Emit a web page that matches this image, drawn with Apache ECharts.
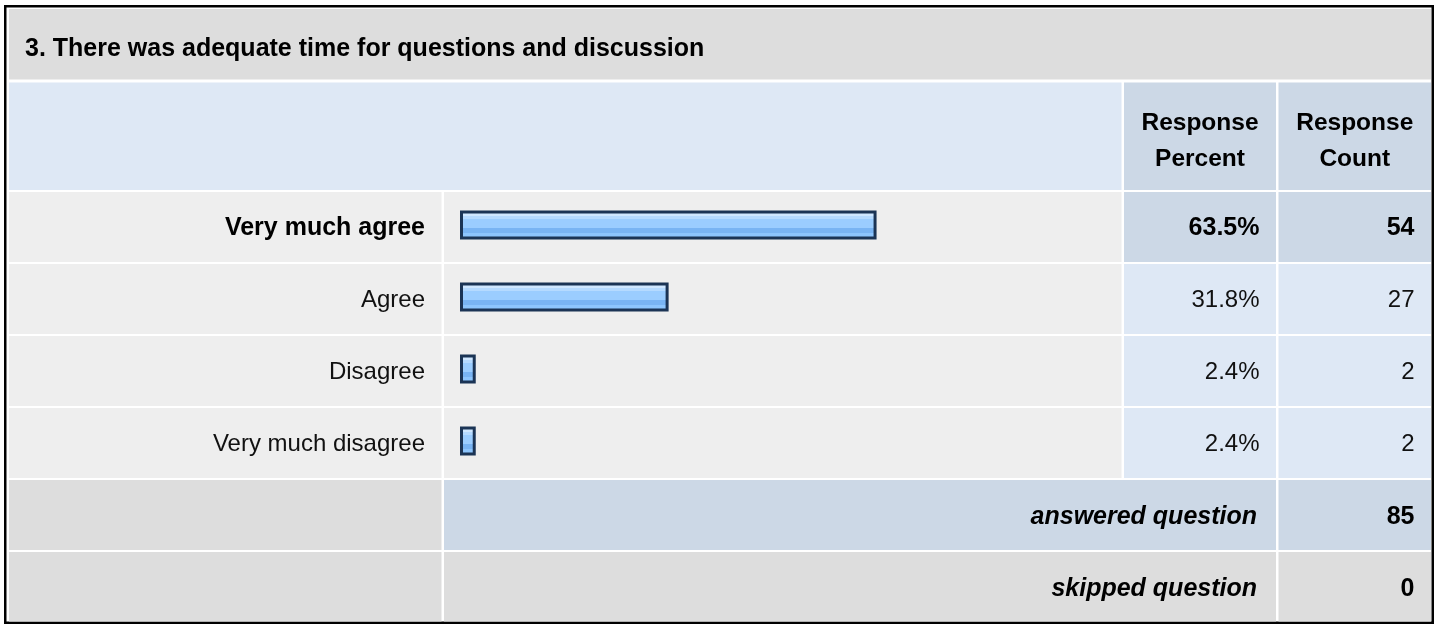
<!DOCTYPE html>
<html>
<head>
<meta charset="utf-8">
<script src="https://cdn.jsdelivr.net/npm/echarts@6/dist/echarts.min.js"></script>
<style>
html,body{margin:0;padding:0;background:#ffffff;}
#chart{width:1440px;height:625px;}
</style>
</head>
<body>
<div id="chart"></div>
<script>
// ---- data ----
var questionTitle = '3. There was adequate time for questions and discussion';
var categories = ['Very much agree', 'Agree', 'Disagree', 'Very much disagree'];
var responsePercent = [63.5, 31.8, 2.4, 2.4];
var responseCount = [54, 27, 2, 2];
var headerPercent = 'Response\nPercent';
var headerCount = 'Response\nCount';
var answeredLabel = 'answered question';
var answeredCount = 85;
var skippedLabel = 'skipped question';
var skippedCount = 0;

// ---- layout / styles ----
var FONT = '"Liberation Sans", Arial, Helvetica, sans-serif';
var C_TITLE = '#dddddd', C_HEAD_L = '#dee8f5', C_HEAD_D = '#ccd8e6', C_ROW = '#eeeeee';
var colL = [9, 441.5], colBar = [444, 1121.5], colP = [1124, 1276], colC = [1278.5, 1431];
var rowTop0 = 192, rowH = 70, rowStep = 72;
var maxIdx = responsePercent.indexOf(Math.max.apply(null, responsePercent));

var chart = echarts.init(document.getElementById('chart'), null, {renderer: 'canvas'});

function rect(x0, x1, y0, y1, color, z) {
  return {type: 'rect', z: z || 1, silent: true,
    shape: {x: x0, y: y0, width: x1 - x0, height: y1 - y0},
    style: {fill: color}};
}
function text(str, x, y, align, font, z) {
  return {type: 'text', z: z || 30, silent: true,
    style: {text: str, x: x, y: y, textAlign: align, textVerticalAlign: 'middle',
      font: font, fill: '#000', lineHeight: 36}};
}

var g = [];
// outer frame
g.push(rect(4, 1434, 5, 624, '#000000', 0));
g.push(rect(6.5, 1431.5, 7.5, 621.5, '#ffffff', 0));
// title
g.push(rect(9, 1431, 9, 79.5, C_TITLE));
g.push(text(questionTitle, 25, 49, 'left', 'bold 25px ' + FONT));
// header
g.push(rect(colL[0], colBar[1], 82.5, 190, C_HEAD_L));
g.push(rect(colP[0], colP[1], 82.5, 190, C_HEAD_D));
g.push(rect(colC[0], colC[1], 82.5, 190, C_HEAD_D));
g.push(text(headerPercent, (colP[0] + colP[1]) / 2, 141, 'center', 'bold 24.5px ' + FONT));
g.push(text(headerCount, (colC[0] + colC[1]) / 2, 141, 'center', 'bold 24.5px ' + FONT));
// data rows backgrounds
for (var i = 0; i < categories.length; i++) {
  var y0 = rowTop0 + i * rowStep, y1 = y0 + rowH;
  var vc = (i === maxIdx) ? C_HEAD_D : C_HEAD_L;
  g.push(rect(colL[0], colL[1], y0, y1, C_ROW));
  g.push(rect(colBar[0], colBar[1], y0, y1, C_ROW));
  g.push(rect(colP[0], colP[1], y0, y1, vc));
  g.push(rect(colC[0], colC[1], y0, y1, vc));
}
// footer rows
var aTop = rowTop0 + categories.length * rowStep;
var sTop = aTop + rowStep;
g.push(rect(colL[0], colL[1], aTop, aTop + rowH, C_TITLE));
g.push(rect(colBar[0], colP[1], aTop, aTop + rowH, C_HEAD_D));
g.push(rect(colC[0], colC[1], aTop, aTop + rowH, C_HEAD_D));
g.push(rect(colL[0], colL[1], sTop, sTop + 69.5, C_TITLE));
g.push(rect(colBar[0], colP[1], sTop, sTop + 69.5, C_TITLE));
g.push(rect(colC[0], colC[1], sTop, sTop + 69.5, C_TITLE));
g.push(text(answeredLabel, colP[1] - 19, aTop + 37, 'right', 'italic bold 25px ' + FONT));
g.push(text(String(answeredCount), colC[1] - 16.5, aTop + 37, 'right', 'bold 25px ' + FONT));
g.push(text(skippedLabel, colP[1] - 19, sTop + 37, 'right', 'italic bold 25px ' + FONT));
g.push(text(String(skippedCount), colC[1] - 16.5, sTop + 37, 'right', 'bold 25px ' + FONT));

var gridLeft = 460, gridW = 656, gridRight = gridLeft + gridW;

function labelRich(fmt) {
  return function (v, idx) {
    var s = fmt(v, idx);
    return idx === maxIdx ? '{b|' + s + '}' : '{n|' + s + '}';
  };
}
var richStyles = {
  b: {fontFamily: FONT, fontSize: 25, fontWeight: 'bold', color: '#000'},
  n: {fontFamily: FONT, fontSize: 24, fontWeight: 'normal', color: '#111'}
};

var barFill = new echarts.graphic.LinearGradient(0, 0, 0, 1, [
  {offset: 0, color: '#cfe7ff'}, {offset: 0.2, color: '#cfe7ff'},
  {offset: 0.2, color: '#b5daff'}, {offset: 0.31, color: '#b5daff'},
  {offset: 0.31, color: '#9bcdff'}, {offset: 0.6, color: '#9bcdff'},
  {offset: 0.6, color: '#79b4f3'}, {offset: 0.78, color: '#79b4f3'},
  {offset: 0.78, color: '#8dc5fd'}, {offset: 0.9, color: '#8dc5fd'},
  {offset: 0.9, color: '#a8d5ff'}, {offset: 1, color: '#a8d5ff'}
]);

var axisCommon = {axisLine: {show: false}, axisTick: {show: false}, splitLine: {show: false}};

var option = {
  animation: false,
  backgroundColor: '#ffffff',
  graphic: {elements: g},
  grid: {left: gridLeft, top: 189, width: gridW, height: 288, containLabel: false},
  xAxis: {type: 'value', min: 0, max: 100, show: false},
  yAxis: [
    Object.assign({type: 'category', inverse: true, data: categories, z: 10,
      axisLabel: {margin: gridLeft - 425, align: 'right', padding: [6, 0, 0, 0],
        formatter: labelRich(function (v) { return v; }), rich: richStyles}}, axisCommon),
    Object.assign({type: 'category', inverse: true, position: 'right', data: categories, z: 10,
      axisLabel: {margin: 1259.5 - gridRight, align: 'right', padding: [6, 0, 0, 0],
        formatter: labelRich(function (v, i) { return responsePercent[i].toFixed(1) + '%'; }), rich: richStyles}}, axisCommon),
    Object.assign({type: 'category', inverse: true, position: 'right', data: categories, z: 10,
      axisLabel: {margin: 1414.5 - gridRight, align: 'right', padding: [6, 0, 0, 0],
        formatter: labelRich(function (v, i) { return String(responseCount[i]); }), rich: richStyles}}, axisCommon)
  ],
  series: [{
    type: 'bar', yAxisIndex: 0, z: 10, barWidth: 29,
    data: responsePercent,
    itemStyle: {color: barFill, borderColor: '#1b3455', borderWidth: 3},
    emphasis: {disabled: true}
  }]
};
chart.setOption(option);
</script>
</body>
</html>
